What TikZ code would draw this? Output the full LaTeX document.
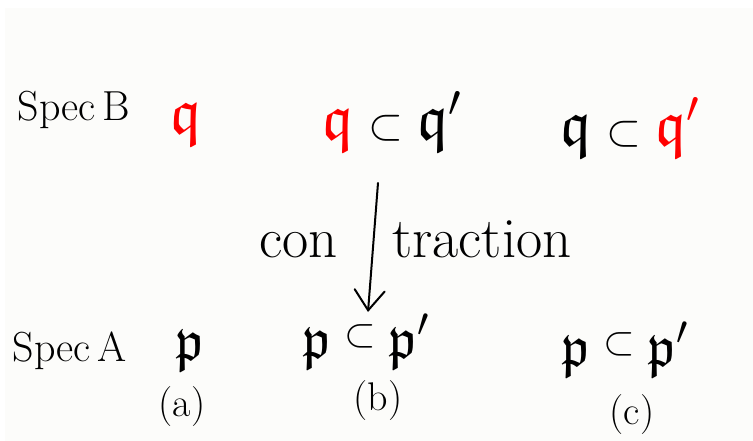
\documentclass[tikz,border=0pt]{standalone}
\usepackage{amssymb}
\usepackage{fix-cm}
\usetikzlibrary{arrows.meta}
\definecolor{paper}{HTML}{FCFCFA}
\definecolor{ink}{HTML}{000000}
\definecolor{hl}{HTML}{FF0000}
\newcommand{\smsub}{\mathbin{\scriptstyle\subset}}
\newcommand{\upsub}{\mathbin{\raisebox{0.45ex}{$\scriptstyle\subset$}}}
\begin{document}
\begin{tikzpicture}[x=1pt,y=-1pt,
  lbl/.style={inner sep=0pt, anchor=base, font=\fontsize{42}{50}\selectfont, text=ink},
  ideal/.style={inner sep=0pt, anchor=base, font=\fontsize{64}{72}\selectfont, text=ink},
  idealA/.style={inner sep=0pt, anchor=base, font=\fontsize{58}{66}\selectfont, text=ink},
  word/.style={inner sep=0pt, anchor=base, font=\fontsize{57}{64}\selectfont, text=ink},
  case/.style={inner sep=0pt, anchor=base, font=\fontsize{40}{48}\selectfont, text=ink},
  arr/.style={draw=ink, line width=2pt, line cap=round, -{Straight Barb[length=20pt,width=30pt,line cap=round]}}]
\useasboundingbox (0,0) rectangle (753,441);
\fill[paper] (5,8) rectangle (753,441);
% top row
\node[lbl] (specB) at (74,121) {Spec\,B};
\node[ideal] (qa) at (186,134) {$\color{hl}\mathfrak{q}$};
\node[ideal] (qb) at (392,140) {$\color{hl}\mathfrak{q}\color{ink}\smsub\mathfrak{q}'$};
\node[ideal] (qc) at (630,146) {$\mathfrak{q}\smsub\color{hl}\mathfrak{q}'$};
% arrow with label
\coordinate (atop) at (378,183);
\coordinate (abot) at (368,312);
\draw[arr] (atop) -- (abot);
\node[word, anchor=base east] (con) at (338,258) {con};
\node[word, anchor=base west] (traction) at (392,258) {traction};
% bottom row
\node[lbl] (specA) at (70,361) {Spec\,A};
\node[idealA] (pa) at (190,360) {$\mathfrak{p}$};
\node[idealA] (pb) at (366,358) {$\mathfrak{p}\upsub\mathfrak{p}'$};
\node[idealA] (pc) at (625,366) {$\mathfrak{p}\upsub\mathfrak{p}'$};
\node[case] (ca) at (182,416) {(a)};
\node[case] (cb) at (378,410) {(b)};
\node[case] (cc) at (632,424) {(c)};
\end{tikzpicture}
\end{document}
